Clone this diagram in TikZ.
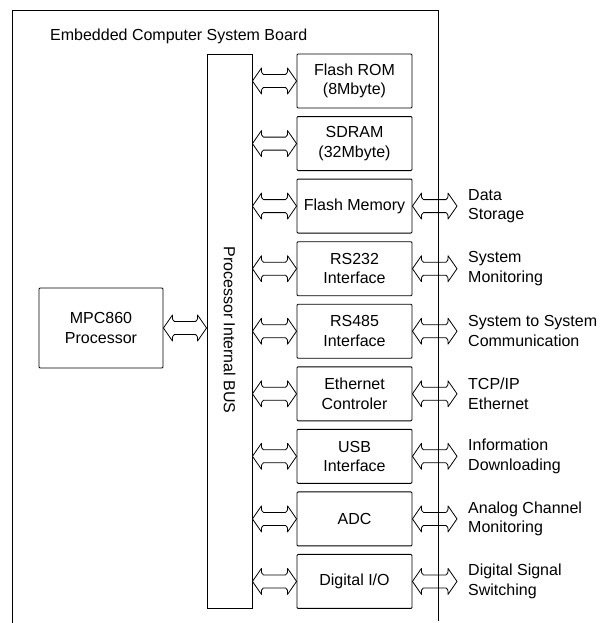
\documentclass[tikz,border=0pt]{standalone}
\usepackage{fontspec}
\setmainfont{Liberation Sans}
\usetikzlibrary{calc}
\begin{document}
\begin{tikzpicture}[x=1pt,y=-1pt,
  every node/.style={font=\fontsize{16}{19.5}\selectfont},
  blk/.style={draw, line width=0.9pt, rounded corners=1pt, align=center, minimum width=115pt, minimum height=54pt, inner sep=0pt},
  lbl/.style={anchor=west, align=left, inner sep=0pt},
  fat/.style={draw, line width=0.8pt, line join=round, to path={
    let \p1=(\tikztostart), \p2=(\tikztotarget) in
    (\x1,\y1) -- (\x1+9pt,\y1+13pt) .. controls (\x1+9pt,\y1+8pt) .. (\x1+11pt,\y1+6.5pt) -- (\x2-11pt,\y1+6.5pt) .. controls (\x2-9pt,\y1+8pt) .. (\x2-9pt,\y1+13pt) -- (\x2,\y1)
    -- (\x2-9pt,\y1-13pt) .. controls (\x2-9pt,\y1-8pt) .. (\x2-11pt,\y1-6.5pt) -- (\x1+11pt,\y1-6.5pt) .. controls (\x1+9pt,\y1-8pt) .. (\x1+9pt,\y1-13pt) -- cycle}}
]
\useasboundingbox (0,0) rectangle (607,623);
% board
\draw[line width=0.9pt] (12,623) -- (12,10) -- (438,10) -- (438,621);
\node[anchor=west, inner sep=0pt] (title) at (50,36) {Embedded Computer System Board};
% bus
\node[draw, line width=0.9pt, minimum width=45pt, minimum height=554pt, inner sep=0pt] (bus) at (229.5,331) {};
\node[rotate=-90, inner sep=0pt] (bustext) at (229.5,330) {Processor Internal BUS};
% processor
\node[blk, minimum width=124pt, minimum height=80pt] (cpu) at (101,328) {MPC860\\Processor};
% devices
\node[blk] (r1) at (354.5,81) {Flash ROM\\(8Mbyte)};
\node[blk] (r2) at (354.5,143.6) {SDRAM\\(32Mbyte)};
\node[blk] (r3) at (354.5,206.1) {Flash Memory};
\node[blk] (r4) at (354.5,268.7) {RS232\\Interface};
\node[blk] (r5) at (354.5,331.2) {RS485\\Interface};
\node[blk] (r6) at (354.5,393.8) {Ethernet\\Controler};
\node[blk] (r7) at (354.5,456.3) {USB\\Interface};
\node[blk] (r8) at (354.5,518.9) {ADC};
\node[blk] (r9) at (354.5,581.4) {Digital I/O};
% external labels
\node[lbl] (l3) at (468,206) {Data\\Storage};
\node[lbl] (l4) at (468,268.7) {System\\Monitoring};
\node[lbl] (l5) at (468,331.2) {System to System\\Communication};
\node[lbl] (l6) at (468,393.8) {TCP/IP\\Ethernet};
\node[lbl] (l7) at (468,456.3) {Information\\Downloading};
\node[lbl] (l8) at (468,518.9) {Analog Channel\\Monitoring};
\node[lbl] (l9) at (468,581.4) {Digital Signal\\Switching};
\coordinate (port) at (457,0);
% arrows
\draw[fat] (cpu.east) to (cpu.east -| bus.west);
\foreach \i in {1,...,9}{
  \draw[fat] (bus.east |- r\i.west) to (r\i.west);
}
\foreach \i in {3,...,9}{
  \draw[fat] (r\i.east) to (r\i.east -| port);
}
\end{tikzpicture}
\end{document}
